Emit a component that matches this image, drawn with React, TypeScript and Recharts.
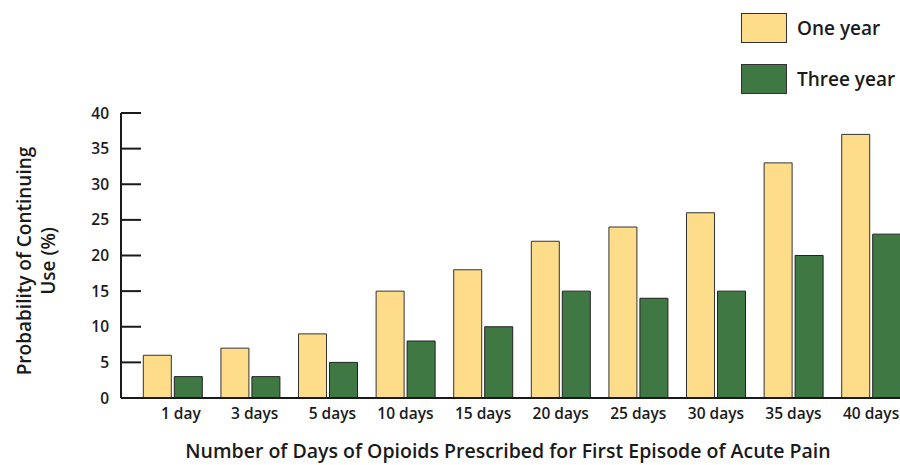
import React from 'react'
import { BarChart, Bar, XAxis, YAxis, Label } from 'recharts'

const categories = ['1 day', '3 days', '5 days', '10 days', '15 days', '20 days', '25 days', '30 days', '35 days', '40 days']
const oneYear = [6, 7, 9, 15, 18, 22, 24, 26, 33, 37]
const threeYear = [3, 3, 5, 8, 10, 15, 14, 15, 20, 23]
const yTicks = [0, 5, 10, 15, 20, 25, 30, 35, 40]

const data = categories.map((name, i) => ({ name, oneYear: oneYear[i], threeYear: threeYear[i] }))

const FONT = '"Open Sans", sans-serif'
const YELLOW = '#fddd8a'
const GREEN = '#3f7842'
const INK = '#1a1a1a'

const legendItems = [
  { label: 'One year', color: YELLOW },
  { label: 'Three year', color: GREEN },
]

// y軸の目盛り: 内向きの線と左側のラベル
const YTick = (props: any) => {
  const { x, y, payload } = props
  return (
    <g>
      <line x1={x} x2={x + 20} y1={y} y2={y} stroke={INK} strokeWidth={2} />
      <text x={x - 12} y={y} dy={5.5} textAnchor="end" fontFamily={FONT} fontWeight={600} fontSize={15.5} fill={INK}>
        {payload.value}
      </text>
    </g>
  )
}

// x軸のラベルは棒グループの右端に揃える
const XTick = (props: any) => {
  const { x, y, payload } = props
  return (
    <text x={x + 28} y={y} dy={19} textAnchor="end" fontFamily={FONT} fontWeight={600} fontSize={15.5} fill={INK}>
      {payload.value}
    </text>
  )
}

export default function App() {
  return (
    <div style={{ position: 'absolute', left: 0, top: 0, width: 900, height: 465, overflow: 'hidden', background: '#fff' }}>
      <BarChart
        width={910}
        height={465}
        data={data}
        margin={{ top: 113, right: 0, bottom: 0, left: 0 }}
        barGap={3}
        barCategoryGap="12%"
      >
        <XAxis
          dataKey="name"
          height={67}
          padding={{ left: 13, right: 0 }}
          tickLine={false}
          tickSize={0}
          tick={<XTick />}
          axisLine={{ stroke: INK, strokeWidth: 2 }}
        >
          <Label
            value="Number of Days of Opioids Prescribed for First Episode of Acute Pain"
            content={() => (
              <text x={508} y={458} textAnchor="middle" fontFamily={FONT} fontWeight={600} fontSize={19.5} fill={INK}>
                Number of Days of Opioids Prescribed for First Episode of Acute Pain
              </text>
            )}
          />
        </XAxis>
        <YAxis
          width={121}
          domain={[0, 40]}
          ticks={yTicks}
          tickLine={false}
          tickSize={0}
          tickMargin={0}
          tick={<YTick />}
          axisLine={{ stroke: INK, strokeWidth: 2 }}
        >
          <Label
            value="Probability of Continuing Use (%)"
            content={() => (
              <text
                transform="translate(36, 261) rotate(-90)"
                textAnchor="middle"
                fontFamily={FONT}
                fontWeight={600}
                fontSize={19}
                fill={INK}
              >
                <tspan x={0} dy={-5}>Probability of Continuing</tspan>
                <tspan x={0} dy={24}>Use (%)</tspan>
              </text>
            )}
          />
        </YAxis>
        <Bar dataKey="oneYear" name="One year" fill={YELLOW} stroke="#333" strokeWidth={1} isAnimationActive={false} />
        <Bar dataKey="threeYear" name="Three year" fill={GREEN} stroke="#222" strokeWidth={1} isAnimationActive={false} />
      </BarChart>

      {/* 凡例 */}
      <div style={{ position: 'absolute', left: 741, top: 13, fontFamily: FONT, fontWeight: 600, fontSize: 19, color: INK }}>
        {legendItems.map((item, i) => (
          <div key={item.label} style={{ display: 'flex', alignItems: 'center', height: 30, marginBottom: i === 0 ? 21 : 0 }}>
            <div style={{ width: 44, height: 28, background: item.color, border: '1px solid #333', marginRight: 10 }} />
            <span style={{ lineHeight: '30px' }}>{item.label}</span>
          </div>
        ))}
      </div>
    </div>
  )
}
